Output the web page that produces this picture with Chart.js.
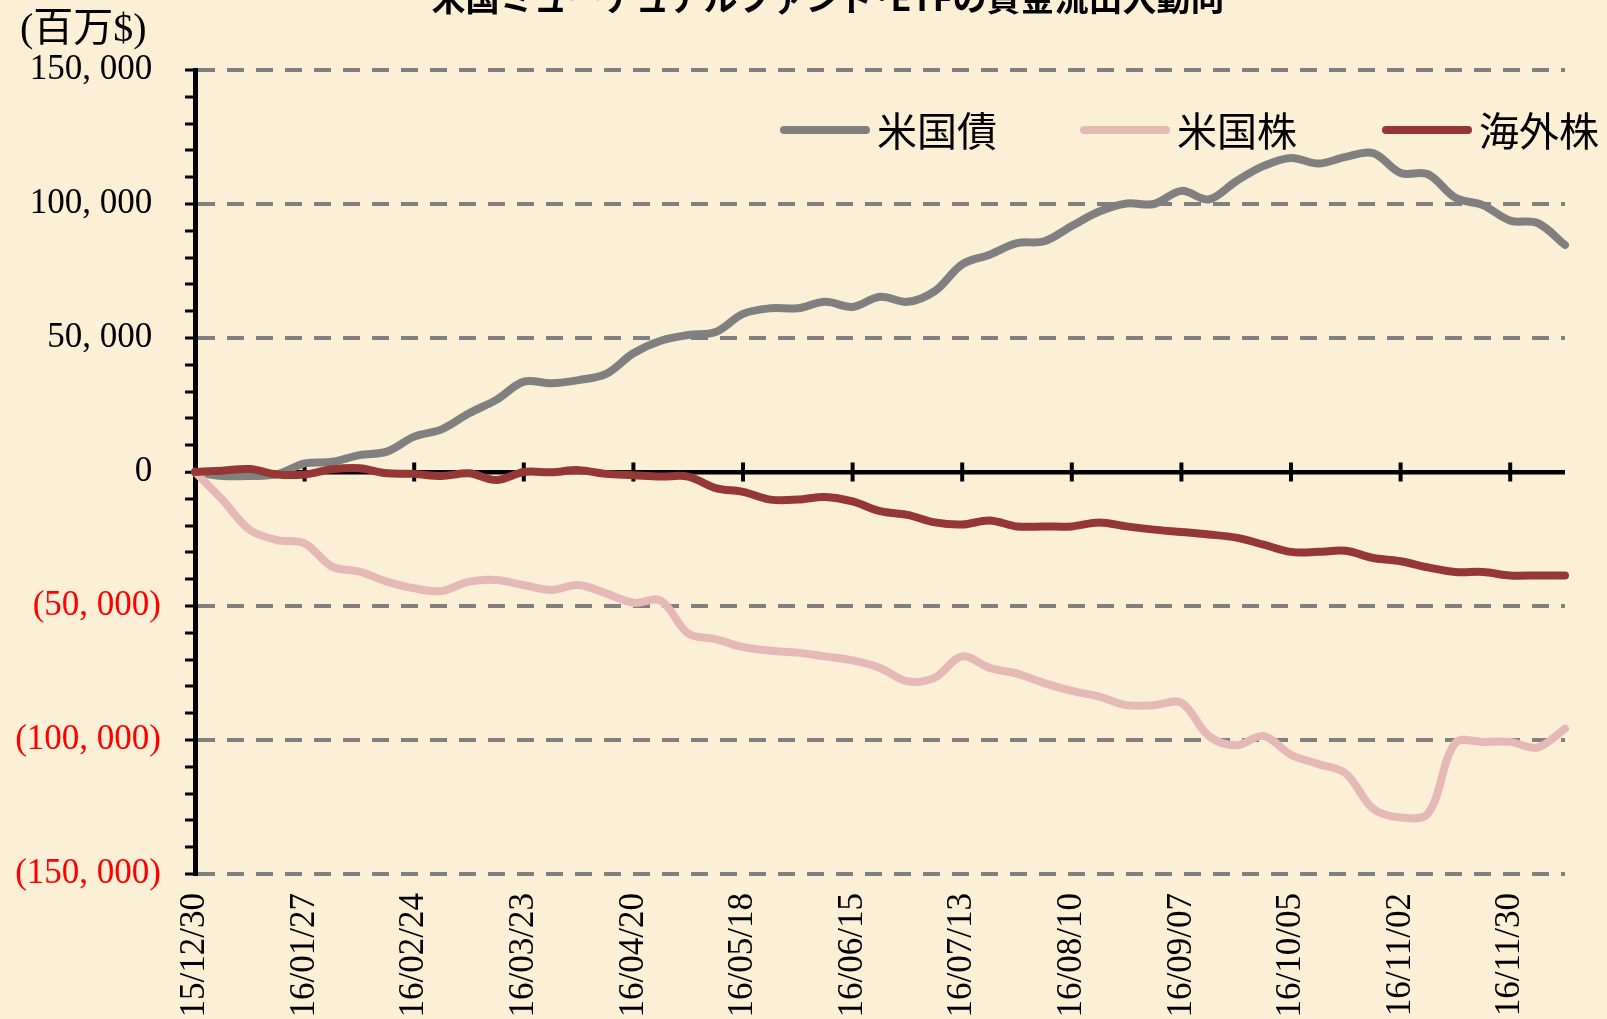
<!DOCTYPE html>
<html><head><meta charset="utf-8">
<script src="https://cdn.jsdelivr.net/npm/chart.js@4.4.1/dist/chart.umd.min.js"></script>
<style>
html,body{margin:0;padding:0;background:#FBEFD6;}
#wrap{position:relative;width:1607px;height:1019px;overflow:hidden;background:#FBEFD6;}
canvas{display:block;}
</style></head><body>
<div id="wrap"><canvas id="c" width="1607" height="1019"></canvas></div>
<script>
const chartTitle = '米国ミューチュアルファンド･ETFの資金流出入動向';
const unitLabel = '(百万$)';
const seriesNames = ['米国債', '米国株', '海外株'];
const seriesColors = ['#808080', '#E6B9B8', '#953735'];
const dates = [
 '15/12/30','16/01/06','16/01/13','16/01/20','16/01/27','16/02/03','16/02/10','16/02/17',
 '16/02/24','16/03/02','16/03/09','16/03/16','16/03/23','16/03/30','16/04/06','16/04/13',
 '16/04/20','16/04/27','16/05/04','16/05/11','16/05/18','16/05/25','16/06/01','16/06/08',
 '16/06/15','16/06/22','16/06/29','16/07/06','16/07/13','16/07/20','16/07/27','16/08/03',
 '16/08/10','16/08/17','16/08/24','16/08/31','16/09/07','16/09/14','16/09/21','16/09/28',
 '16/10/05','16/10/12','16/10/19','16/10/26','16/11/02','16/11/09','16/11/16','16/11/23',
 '16/11/30','16/12/07','16/12/14'
];
const usBonds = [
 0,-1500,-1500,-800,3200,3800,6300,7600,13200,15900,21900,26900,33700,33100,34300,36600,
 44300,49000,51100,52200,59000,61100,61100,63500,61600,65400,63500,67500,77500,81100,85400,86100,
 91800,97200,100200,100000,104900,101700,108500,114200,117200,115100,117600,119000,111600,111100,102300,99600,
 93800,92900,84700
];
const usStocks = [
 0,-10400,-21600,-25400,-26600,-35300,-37200,-40900,-43400,-44400,-40900,-40300,-42200,-44000,-42200,-45300,
 -48800,-48000,-60300,-62400,-65300,-66700,-67400,-68800,-70300,-73100,-78100,-76700,-68800,-73100,-75200,-78800,
 -81700,-83800,-87000,-87000,-86100,-98500,-102000,-98500,-105500,-109000,-112500,-125700,-128900,-127500,-101100,-100700,
 -100700,-102800,-95800
];
const foreignStocks = [
 0,500,1100,-900,-900,1000,1400,-500,-700,-1500,-500,-3000,0,-100,700,-700,
 -1200,-1700,-1700,-6000,-7400,-10300,-10300,-9300,-11000,-14600,-16000,-18800,-19600,-18100,-20300,-20300,
 -20300,-18800,-20300,-21500,-22400,-23300,-24500,-27100,-29800,-29800,-29400,-32100,-33300,-35600,-37300,-37300,
 -38600,-38600,-38600
];
const yMin = -150000, yMax = 150000, yMajor = 50000, yMinor = 10000;
const xLabelEvery = 4;

function fmtY(v) {
  const s = Math.abs(v).toLocaleString('en-US').replace(/,/g, ', ');
  return v < 0 ? '(' + s + ')' : s + ' ';
}

const serif = '"Liberation Serif", "DejaVu Serif", serif';
const cjk = '"Noto Sans CJK JP", "Noto Sans", sans-serif';

const decor = {
  id: 'decor',
  beforeDatasetsDraw(chart) {
    const {ctx, scales: {x, y}} = chart;
    const y0 = y.getPixelForValue(0);
    ctx.save();
    ctx.strokeStyle = '#000';
    ctx.lineWidth = 4;
    for (let i = xLabelEvery; i < dates.length; i += xLabelEvery) {
      const px = x.getPixelForValue(i);
      ctx.beginPath(); ctx.moveTo(px, y0 - 9.5); ctx.lineTo(px, y0 + 9.5); ctx.stroke();
    }
    ctx.restore();
  },
  afterDraw(chart) {
    const ctx = chart.ctx;
    ctx.save();
    ctx.fillStyle = '#000';
    ctx.font = 'bold 34px ' + cjk;
    ctx.textAlign = 'center';
    ctx.textBaseline = 'alphabetic';
    ctx.fillText(chartTitle, 828, 11);
    ctx.font = '40px "Liberation Serif", "Noto Sans CJK JP", serif';
    ctx.textAlign = 'left';
    ctx.textBaseline = 'middle';
    ctx.fillText(unitLabel, 20, 30);
    const legendX = [781, 1081, 1383];
    const ly = 130;
    chart.data.datasets.forEach((ds, i) => {
      ctx.strokeStyle = ds.borderColor;
      ctx.lineWidth = 8;
      ctx.lineCap = 'round';
      ctx.beginPath(); ctx.moveTo(legendX[i] + 3, ly); ctx.lineTo(legendX[i] + 85, ly); ctx.stroke();
      ctx.fillStyle = '#000';
      ctx.font = '40px ' + cjk;
      ctx.textAlign = 'left';
      ctx.textBaseline = 'middle';
      ctx.fillText(ds.label, legendX[i] + 96, ly + 1);
    });
    ctx.restore();
  }
};

new Chart(document.getElementById('c'), {
  type: 'line',
  data: {
    labels: dates,
    datasets: [
      {label: seriesNames[0], data: usBonds, borderColor: seriesColors[0], order: 2},
      {label: seriesNames[1], data: usStocks, borderColor: seriesColors[1], order: 1},
      {label: seriesNames[2], data: foreignStocks, borderColor: seriesColors[2], order: 0}
    ].map(d => Object.assign(d, {
      borderWidth: 8, pointRadius: 0, pointHoverRadius: 0, tension: 0.35, fill: false,
      borderCapStyle: 'round', borderJoinStyle: 'round', backgroundColor: d.borderColor
    }))
  },
  options: {
    responsive: false,
    animation: false,
    devicePixelRatio: 1,
    events: [],
    layout: {padding: {top: 70, right: 42, left: 0, bottom: 0}},
    plugins: {legend: {display: false}, title: {display: false}, tooltip: {enabled: false}},
    scales: {
      x: {
        type: 'category',
        offset: false,
        grid: {display: false, drawTicks: false},
        border: {display: false},
        ticks: {
          autoSkip: false, maxRotation: 90, minRotation: 90, padding: 19,
          color: '#000', font: {family: serif, size: 35},
          callback: (v, i) => (i % xLabelEvery === 0 ? dates[i] : '')
        },
        afterFit: s => { s.height = 145; s.paddingRight = 0; s.paddingLeft = 0; }
      },
      y: {
        min: yMin, max: yMax,
        grid: {
          color: c => c.tick.value === 0 ? '#000' : (c.tick.value % yMajor === 0 ? '#808080' : 'rgba(0,0,0,0)'),
          lineWidth: c => c.tick.value === 0 ? 4.5 : 4,
          drawTicks: true, tickLength: 10, tickColor: '#000', tickWidth: 3
        },
        border: {
          display: true, color: '#000', width: 5,
          dash: c => (c.tick && c.tick.value === 0) ? [] : [17, 12]
        },
        ticks: {
          stepSize: yMinor, autoSkip: false, padding: 24,
          color: c => c.tick.value < 0 ? '#FF0000' : '#000',
          font: {family: serif, size: 35},
          callback: v => (v % yMajor === 0 ? fmtY(v) : '')
        },
        afterFit: s => { s.width = 195; }
      }
    }
  },
  plugins: [decor]
});
</script>
</body></html>
